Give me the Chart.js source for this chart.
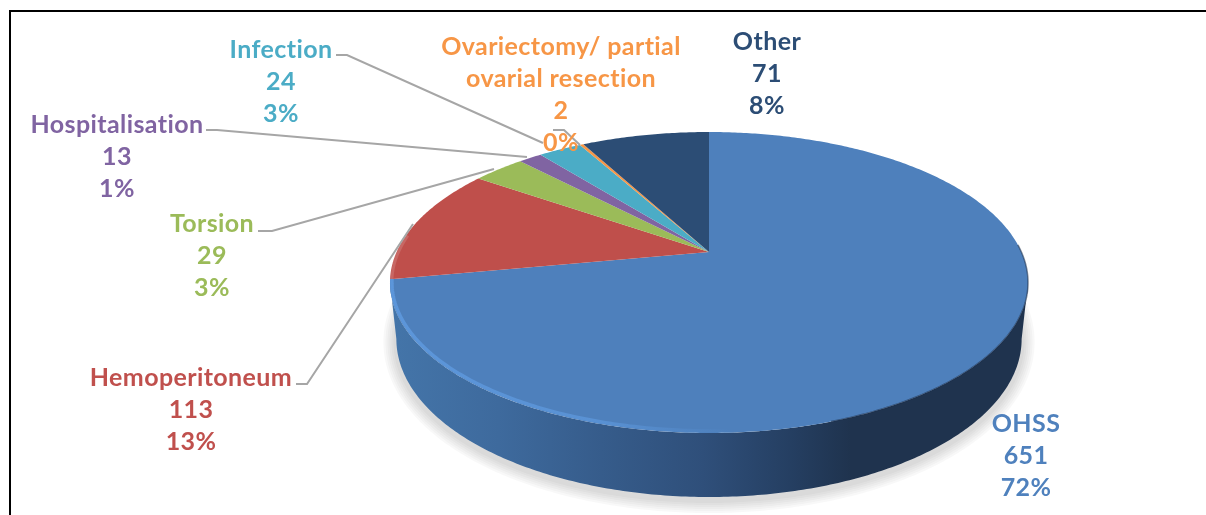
<!DOCTYPE html>
<html>
<head>
<meta charset="utf-8">
<title>Complications</title>
<script src="https://cdn.jsdelivr.net/npm/chart.js@4"></script>
<style>
    html, body { margin: 0; padding: 0; background: #fff; overflow: hidden; }
    #frame { position: absolute; left: 9px; top: 10px; right: 0; bottom: 0; border-left: 2px solid #000; border-top: 2px solid #000; }
    #pie { position: absolute; left: 0; top: 0; filter: blur(0.5px); }
</style>
</head>
<body>
<div id="frame"></div>
<canvas id="pie" width="1206" height="515"></canvas>
<script>
const categories = ['OHSS', 'Hemoperitoneum', 'Torsion', 'Hospitalisation', 'Infection', 'Ovariectomy/ partial ovarial resection', 'Other'];
const values = [651, 113, 29, 13, 24, 2, 71];
const percents = ['72%', '13%', '3%', '1%', '3%', '0%', '8%'];
const sliceColors = ['#4e80bc', '#bf4f4b', '#9bbb59', '#8064a2', '#4bacc6', '#f79646', '#2c4d75'];
const textColors = ['#4f81bd', '#c0504d', '#9bbb59', '#8064a2', '#4bacc6', '#f79646', '#2c4d75'];

// label placement: centre x and y of the first line
const labelX = [1026, 191, 212, 117, 281, 561, 767];
const labelY = [424, 378, 224, 125, 50, 47, 42];
const lineGap = 32;
const wrapped = { 5: ['Ovariectomy/ partial', 'ovarial resection'] };

// leader lines, one per slice (OHSS and Other have none)
const leaders = [
    null,
    [[296, 384], [307, 384], [413, 224]],
    [[258, 231], [272, 231], [494, 169]],
    [[206, 130], [217, 130], [527, 157]],
    [[336, 55], [347, 55], [543, 143]],
    [[553, 130], [564, 130], [580, 145]],
    null
];

// perspective of the disc
const cx = 709, cy = 252, rx = 312.4, ry = 144.3, k = 0.2027;

function topPoint(a) {
    const w = 1 - k * Math.sin(a);
    return [cx + rx * Math.cos(a) / w, cy + ry * Math.sin(a) / w];
}
function bottomPoint(a) {
    const w = 1 - k * Math.sin(a);
    return [cx + 0.98 * rx * Math.cos(a) / w, cy + 55 + 1.05 * ry * Math.sin(a) / w];
}
function shadowPoint(a) {
    const p = bottomPoint(a);
    return [p[0], p[1] + 3];
}
function insetPoint(a) {
    const p = topPoint(a);
    return [p[0] + (cx - p[0]) * 0.006, p[1] + (cy - p[1]) * 0.012];
}
function traceArc(ctx, fn, from, to, first) {
    const steps = Math.max(2, Math.ceil(Math.abs(to - from) * 90));
    for (let i = 0; i <= steps; i++) {
        const p = fn(from + (to - from) * i / steps);
        if (i === 0 && first) ctx.moveTo(p[0], p[1]);
        else ctx.lineTo(p[0], p[1]);
    }
}

const pie3d = {
    id: 'pie3d',
    beforeDatasetDraw(chart, args) {
        const ctx = chart.ctx;
        const arcs = args.meta.data;
        const edge = Math.asin(k);

        // soft shadow under the disc, built from wide faint strokes
        ctx.save();
        ctx.strokeStyle = 'rgba(0,0,0,0.028)';
        ctx.lineCap = 'round';
        for (let width = 26; width >= 4; width -= 4) {
            ctx.lineWidth = width;
            ctx.beginPath();
            traceArc(ctx, shadowPoint, -0.05, Math.PI + 0.05, true);
            ctx.stroke();
        }
        ctx.restore();

        // side wall of the first slice, the only one facing the viewer
        const from = Math.max(arcs[0].startAngle, edge);
        const to = Math.min(arcs[0].endAngle, Math.PI - edge);
        const wall = ctx.createLinearGradient(390, 0, 1030, 0);
        wall.addColorStop(0, '#4475a9');
        wall.addColorStop(0.17, '#3e6a9d');
        wall.addColorStop(0.33, '#365c8b');
        wall.addColorStop(0.49, '#2f4f7a');
        wall.addColorStop(0.625, '#253f62');
        wall.addColorStop(0.72, '#1f334e');
        wall.addColorStop(1, '#1f334e');
        ctx.fillStyle = wall;
        ctx.beginPath();
        traceArc(ctx, topPoint, from, to, true);
        traceArc(ctx, bottomPoint, to, from, false);
        ctx.closePath();
        ctx.fill();

        // top face, from the angles Chart.js worked out
        arcs.forEach(function(arc, i) {
            ctx.fillStyle = sliceColors[i];
            ctx.beginPath();
            ctx.moveTo(cx, cy);
            traceArc(ctx, topPoint, arc.startAngle, arc.endAngle, false);
            ctx.closePath();
            ctx.fill();
        });

        // light rim on the front left edge
        const rim = ctx.createLinearGradient(390, 0, 730, 0);
        rim.addColorStop(0, 'rgba(92,150,218,1)');
        rim.addColorStop(0.6, 'rgba(92,150,218,0.8)');
        rim.addColorStop(1, 'rgba(92,150,218,0)');
        ctx.save();
        ctx.strokeStyle = rim;
        ctx.lineWidth = 3.5;
        ctx.beginPath();
        traceArc(ctx, insetPoint, 1.5, arcs[0].endAngle, true);
        ctx.stroke();

        // same on the red slice, much fainter
        ctx.strokeStyle = 'rgba(255,255,255,0.14)';
        ctx.lineWidth = 3;
        ctx.beginPath();
        traceArc(ctx, insetPoint, arcs[1].startAngle, arcs[1].startAngle + 0.3, true);
        ctx.stroke();

        // dark edge on the right of the face
        ctx.strokeStyle = 'rgba(28,46,72,0.55)';
        ctx.lineWidth = 1.5;
        ctx.beginPath();
        traceArc(ctx, topPoint, -0.05, 1.25, true);
        ctx.stroke();
        ctx.restore();
        return false;
    },
    afterDraw(chart) {
        const ctx = chart.ctx;
        ctx.save();
        ctx.strokeStyle = '#a6a6a6';
        ctx.lineWidth = 2;
        leaders.forEach(function(line) {
            if (!line) return;
            ctx.beginPath();
            line.forEach(function(p, i) {
                if (i === 0) ctx.moveTo(p[0], p[1]);
                else ctx.lineTo(p[0], p[1]);
            });
            ctx.stroke();
        });
        ctx.font = 'bold 25px Lato';
        ctx.letterSpacing = '0.4px';
        ctx.textAlign = 'center';
        ctx.textBaseline = 'middle';
        categories.forEach(function(name, i) {
            const lines = (wrapped[i] || [name]).concat([String(values[i]), percents[i]]);
            ctx.fillStyle = textColors[i];
            lines.forEach(function(text, j) {
                ctx.fillText(text, labelX[i], labelY[i] + j * lineGap);
            });
        });
        ctx.restore();
    }
};

new Chart(document.getElementById('pie').getContext('2d'), {
    type: 'pie',
    data: {
        labels: categories,
        datasets: [{
            data: values,
            backgroundColor: sliceColors
        }]
    },
    options: {
        responsive: false,
        animation: false,
        plugins: {
            legend: { display: false },
            tooltip: { enabled: false }
        }
    },
    plugins: [pie3d]
});
</script>
</body>
</html>
